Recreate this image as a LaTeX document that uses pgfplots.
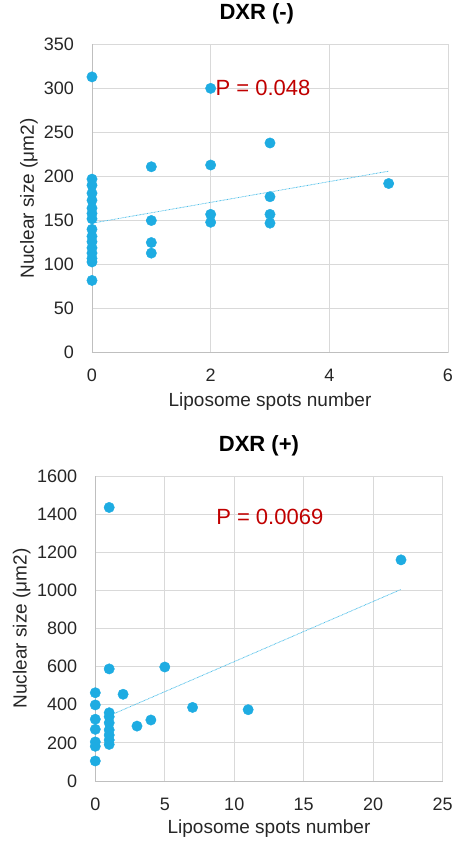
\documentclass[border=0pt]{standalone}
\usepackage{fontspec}
\setmainfont{Liberation Sans}
\usepackage{pgfplots}
\pgfplotsset{compat=1.18}
\definecolor{dot}{RGB}{30,172,226}
\definecolor{gridc}{RGB}{217,217,217}
\definecolor{axc}{RGB}{191,191,191}
\definecolor{pred}{RGB}{192,0,0}
\pgfplotsset{
  xlchart/.style={
    scale only axis,
    anchor=south west,
    axis lines=left,
    axis line style={draw=axc, line width=0.9pt, -},
    grid=major,
    major grid style={draw=gridc, line width=0.9pt},
    major tick length=0pt,
    /pgf/number format/assume math mode=true,
    /pgf/number format/set thousands separator={},
    ticklabel style={font=\fontsize{18}{20}\selectfont, text=black!85},
    yticklabel style={anchor=east, inner sep=0pt, xshift=-18pt},
    xticklabel style={anchor=center, inner sep=0pt, yshift=-23pt},
    label style={font=\fontsize{19}{22}\selectfont, text=black!85},
    title style={font=\bfseries\fontsize{22}{26}\selectfont, anchor=center},
    clip=false,
    scatter/.style={only marks, mark=*, mark size=5.2pt, mark options={draw=dot, fill=dot}},
  }
}
\begin{document}
\begin{tikzpicture}
\useasboundingbox (0pt,0pt) rectangle (456pt,841pt);
% ---------- top chart ----------
\begin{axis}[xlchart,
  at={(92pt,488.3pt)},
  width=356pt, height=308.4pt,
  xmin=0, xmax=6, ymin=0, ymax=350,
  xtick={0,2,4,6}, ytick={0,50,100,150,200,250,300,350},
  title={DXR (-)},
  title style={at={(rel axis cs:0.463,1)}, yshift=24pt},
  xlabel={Liposome spots number},
  ylabel={Nuclear size (μm2)},
  xlabel style={at={(axis description cs:0.5,-0.159)}, anchor=center},
  ylabel style={at={(axis description cs:-0.177,0.5)}, anchor=center},
]
\addplot[scatter] coordinates {
(0,313) (0,197) (0,190) (0,181) (0,173) (0,164) (0,158) (0,152) (0,140) (0,132) (0,126) (0,119) (0,113) (0,107) (0,103) (0,82)
(1,211) (1,150) (1,125) (1,113)
(2,300) (2,213) (2,157) (2,148)
(3,238) (3,177) (3,157) (3,147)
(5,192)
};
\addplot[draw=dot!80, line width=0.8pt, dash pattern=on 0.7pt off 0.7pt] coordinates {(0,147) (5,206)};
\node[anchor=west, inner sep=0pt, text=pred, font=\fontsize{22}{26}\selectfont] at (axis cs:2.08,300) {P = 0.048};
\end{axis}
% ---------- bottom chart ----------
\begin{axis}[xlchart,
  at={(95.3pt,60pt)},
  width=347.4pt, height=305pt,
  xmin=0, xmax=25, ymin=0, ymax=1600,
  xtick={0,5,10,15,20,25}, ytick={0,200,400,600,800,1000,1200,1400,1600},
  title={DXR (+)},
  title style={at={(rel axis cs:0.471,1)}, yshift=24pt},
  xlabel={Liposome spots number},
  ylabel={Nuclear size (μm2)},
  xlabel style={at={(axis description cs:0.5,-0.157)}, anchor=center},
  ylabel style={at={(axis description cs:-0.212,0.5)}, anchor=center},
]
\addplot[scatter] coordinates {
(0,463) (0,399) (0,324) (0,271) (0,205) (0,182) (0,105)
(1,1435) (1,588) (1,358) (1,337) (1,305) (1,268) (1,241) (1,215) (1,192)
(2,455) (3,288) (4,320) (5,598) (7,386) (11,374) (22,1160)
};
\addplot[draw=dot!80, line width=0.8pt, dash pattern=on 0.7pt off 0.7pt] coordinates {(1.4,355) (22,1005)};
\node[anchor=west, inner sep=0pt, text=pred, font=\fontsize{22}{26}\selectfont] at (axis cs:8.69,1387) {P = 0.0069};
\end{axis}
\end{tikzpicture}
\end{document}
